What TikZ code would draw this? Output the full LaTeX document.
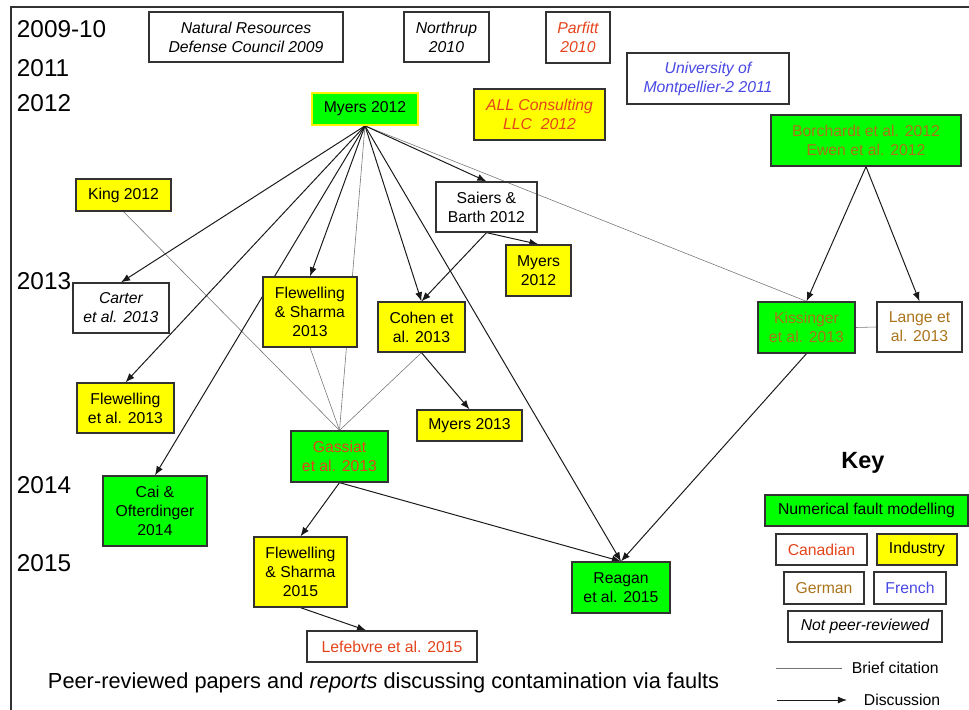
\documentclass[tikz,border=0pt]{standalone}
\usepackage{fontspec}
\setmainfont{Liberation Sans}
\usetikzlibrary{arrows.meta,backgrounds}

\definecolor{faultgreen}{RGB}{0,255,0}
\definecolor{indyellow}{RGB}{255,255,0}
\definecolor{canadared}{RGB}{228,68,28}
\definecolor{germanbrown}{RGB}{170,115,28}
\definecolor{frenchblue}{RGB}{72,72,228}
\definecolor{boxline}{RGB}{50,50,50}

\begin{document}
\begin{tikzpicture}[x=0.025cm, y=-0.025cm,
  paper/.style={draw=boxline, line width=0.9pt, inner sep=0pt, align=center, font=\fontsize{11.2}{13.5}\selectfont},
  fault/.style={paper, fill=faultgreen},
  industry/.style={paper, fill=indyellow},
  report/.style={paper, font=\fontsize{11.2}{13.5}\selectfont\itshape},
  year/.style={anchor=west, font=\fontsize{17.3}{20}\selectfont},
  cite/.style={draw=black!55, line width=0.4pt},
  disc/.style={draw=black!90, line width=0.7pt, -{Latex[length=6.5pt,width=5pt]}}]
\useasboundingbox (0,0) rectangle (969,710);
\draw[boxline, line width=1.3pt] (11,710) -- (11,7) -- (969,7);

% years
\node[year] (y0910) at (12,29) {2009-10};
\node[year] (y2011) at (12,68) {2011};
\node[year] (y2012) at (12,103) {2012};
\node[year] (y2013) at (12,281) {2013};
\node[year] (y2014) at (12,485) {2014};
\node[year] (y2015) at (12,563) {2015};

% 2009-2011
\node[report, minimum width=4.85cm, minimum height=1.25cm] (nrdc) at (246,37) {Natural Resources\\Defense Council 2009};
\node[report, minimum width=2.125cm, minimum height=1.25cm] (northrup) at (446.5,37) {Northrup\\2010};
\node[report, text=canadared, minimum width=1.6cm, minimum height=1.275cm] (parfitt) at (578,37.5) {Parfitt\\2010};
\node[report, text=frenchblue, minimum width=4.05cm, minimum height=1.275cm] (montp) at (708,78.5) {University of\\Montpellier-2 2011};

% 2012
\node[fault, draw=yellow, line width=1.2pt, minimum width=2.65cm, minimum height=0.8cm] (myers12) at (365,109) {Myers 2012};
\node[report, fill=indyellow, text=canadared, minimum width=3.275cm, minimum height=1.275cm] (allc) at (539.5,114.5) {ALL Consulting\\LLC\ \ 2012};
\node[fault, text=germanbrown, minimum width=4.75cm, minimum height=1.275cm] (borch) at (866,140.5) {Borchardt et al. 2012\\Ewen et al. 2012};
\node[industry, minimum width=2.375cm, minimum height=0.8cm] (king) at (123.5,195) {King 2012};
\node[paper, minimum width=2.525cm, minimum height=1.25cm] (saiers) at (486.5,207) {Saiers \&\\Barth 2012};
\node[industry, minimum width=1.625cm, minimum height=1.275cm] (myersb) at (538.5,270.5) {Myers\\2012};

% 2013
\node[report, minimum width=2.4cm, minimum height=1.25cm] (carter) at (121,308) {Carter\\et al. 2013};
\node[industry, minimum width=2.35cm, minimum height=1.75cm] (fsa) at (310,312) {Flewelling\\\& Sharma\\2013};
\node[industry, minimum width=2.175cm, minimum height=1.25cm] (cohen) at (421.5,327) {Cohen et\\al. 2013};
\node[fault, text=germanbrown, minimum width=2.425cm, minimum height=1.275cm] (kissinger) at (806.5,327.5) {Kissinger\\et al. 2013};
\node[paper, text=germanbrown, minimum width=2.125cm, minimum height=1.25cm] (lange) at (919.5,327) {Lange et\\al. 2013};
\node[industry, minimum width=2.425cm, minimum height=1.25cm] (flew) at (125.5,408) {Flewelling\\et al. 2013};
\node[industry, minimum width=2.625cm, minimum height=0.775cm] (myersc) at (469.5,425.5) {Myers 2013};
\node[fault, text=canadared, minimum width=2.425cm, minimum height=1.275cm] (gassiat) at (339.5,456.5) {Gassiat\\et al. 2013};

% 2014-2015
\node[fault, minimum width=2.6cm, minimum height=1.75cm] (cai) at (155,511) {Cai \&\\Ofterdinger\\2014};
\node[industry, minimum width=2.325cm, minimum height=1.75cm] (fsb) at (300.5,572) {Flewelling\\\& Sharma\\2015};
\node[fault, minimum width=2.45cm, minimum height=1.275cm] (reagan) at (621,587.5) {Reagan\\et al. 2015};
\node[paper, text=canadared, minimum width=4.25cm, minimum height=0.775cm] (lefebvre) at (392,646.5) {Lefebvre et al. 2015};

\node[anchor=west, font=\fontsize{15.5}{18}\selectfont] (caption) at (43,683) {Peer-reviewed papers and \emph{reports} discussing contamination via faults};

% key
\node[font=\bfseries\fontsize{16.7}{20}\selectfont] (keytitle) at (863,463) {Key};
\node[fault, minimum width=5.075cm, minimum height=0.775cm] (knum) at (866.5,510.5) {Numerical fault modelling};
\node[paper, text=canadared, minimum width=2.275cm, minimum height=0.775cm] (kcan) at (821.5,549.5) {Canadian};
\node[industry, minimum width=2cm, minimum height=0.775cm] (kind) at (917,549.5) {Industry};
\node[paper, text=germanbrown, minimum width=2cm, minimum height=0.8cm] (kger) at (824,588) {German};
\node[paper, text=frenchblue, minimum width=1.8cm, minimum height=0.8cm] (kfre) at (910,588) {French};
\node[report, minimum width=3.85cm, minimum height=0.775cm] (knot) at (865,626.5) {Not peer-reviewed};

\coordinate (bc1) at (776,668);
\coordinate (bc2) at (842,668);
\draw[cite] (bc1) -- (bc2);
\node[right of=bc2, anchor=west, node distance=0.125cm, font=\fontsize{11.2}{13.5}\selectfont] (bctext) {Brief citation};
\coordinate (dc1) at (777,700);
\coordinate (dc2) at (847,700);
\draw[disc] (dc1) -- (dc2);
\node[right of=dc2, anchor=west, node distance=0.3cm, font=\fontsize{11.2}{13.5}\selectfont] (dctext) {Discussion};

\begin{scope}[on background layer]
% brief citations
\draw[cite] (king.south) -- (gassiat.north);
\draw[cite] (myers12.south) -- (gassiat.north);
\draw[cite] (fsa.south) -- (gassiat.north);
\draw[cite] (cohen.south) -- (gassiat.north);
\draw[cite] (myers12.south) -- (kissinger.north);
\draw[cite] (kissinger.east) -- (lange.west);
% discussions
\draw[disc] (myers12.south) -- (carter.north);
\draw[disc] (myers12.south) -- (flew.north);
\draw[disc] (myers12.south) -- (cai.north);
\draw[disc] (myers12.south) -- (fsa.north);
\draw[disc] (myers12.south) -- (cohen.north);
\draw[disc] (myers12.south) -- (saiers.north);
\draw[disc] (myers12.south) -- (reagan.north);
\draw[disc] (saiers.south) -- (cohen.north);
\draw[disc] (saiers.south) -- (myersb.north);
\draw[disc] (cohen.south) -- (myersc.north);
\draw[disc] (gassiat.south) -- (fsb.north);
\draw[disc] (gassiat.south) -- (reagan.north);
\draw[disc] (fsb.south) -- (lefebvre.148);
\draw[disc] (borch.south) -- (kissinger.north);
\draw[disc] (borch.south) -- (lange.north);
\draw[disc] (kissinger.south) -- (reagan.north);
\end{scope}
\end{tikzpicture}
\end{document}
